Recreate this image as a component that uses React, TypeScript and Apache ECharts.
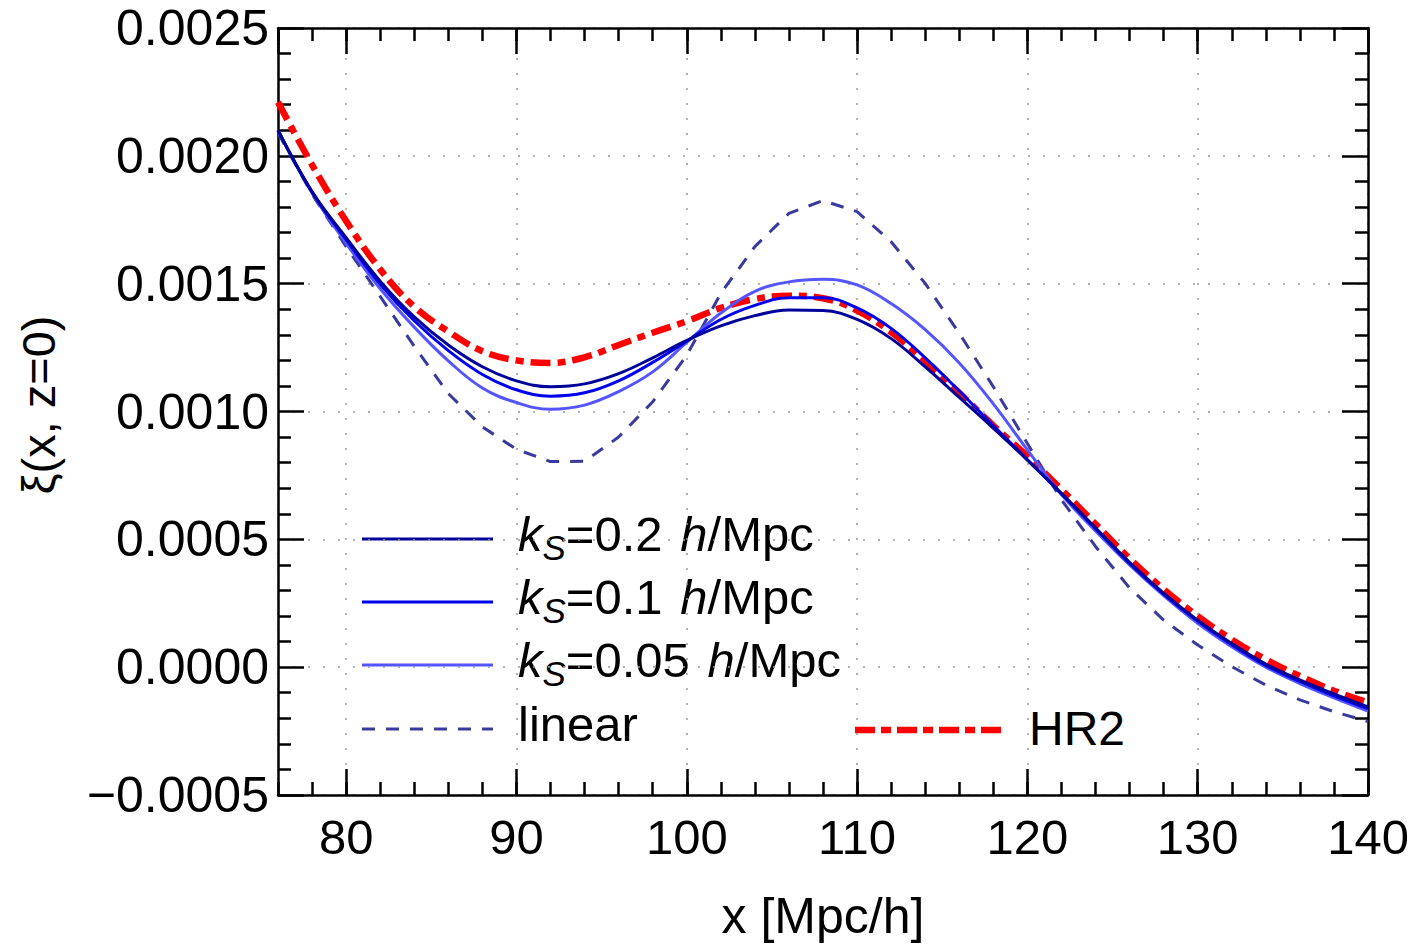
import React, { useEffect, useRef } from "react";
import * as echarts from "echarts";

// x positions [Mpc/h]
const xValues = [
  76, 78, 80, 82, 84, 86, 88, 90, 92, 94, 96, 98, 100, 102, 104, 106, 108,
  110, 112, 114, 116, 118, 120, 122, 124, 126, 128, 130, 132, 134, 136, 138, 140,
];

// xi(x, z=0) values
const ks02 = [
  21.0e-4, 18.6e-4, 16.8e-4, 15.1e-4, 13.7e-4, 12.6e-4, 11.75e-4, 11.2e-4, 10.97e-4,
  11.08e-4, 11.48e-4, 12.1e-4, 12.78e-4, 13.35e-4, 13.75e-4, 13.97e-4, 13.95e-4,
  13.6e-4, 12.85e-4, 11.75e-4, 10.55e-4, 9.35e-4, 8.1e-4, 6.8e-4, 5.45e-4,
  4.1e-4, 2.9e-4, 1.84e-4, 0.93e-4, 0.12e-4, -0.5e-4, -1.05e-4, -1.55e-4,
];
const ks01 = [
  21.0e-4, 18.58e-4, 16.72e-4, 14.98e-4, 13.55e-4, 12.38e-4, 11.45e-4, 10.85e-4, 10.6e-4,
  10.73e-4, 11.2e-4, 11.92e-4, 12.75e-4, 13.6e-4, 14.15e-4, 14.45e-4, 14.45e-4,
  14.05e-4, 13.25e-4, 12.1e-4, 10.8e-4, 9.45e-4, 8.12e-4, 6.78e-4, 5.42e-4,
  4.06e-4, 2.86e-4, 1.8e-4, 0.88e-4, 0.07e-4, -0.56e-4, -1.12e-4, -1.62e-4,
];
const ks005 = [
  21.0e-4, 18.55e-4, 16.58e-4, 14.8e-4, 13.3e-4, 11.98e-4, 10.92e-4, 10.35e-4, 10.09e-4,
  10.25e-4, 10.78e-4, 11.55e-4, 12.7e-4, 13.85e-4, 14.7e-4, 15.07e-4, 15.17e-4,
  14.95e-4, 14.22e-4, 13.2e-4, 11.9e-4, 10.3e-4, 8.5e-4, 6.75e-4, 5.33e-4,
  4.0e-4, 2.8e-4, 1.72e-4, 0.8e-4, 0.0e-4, -0.64e-4, -1.2e-4, -1.72e-4,
];
const linear = [
  20.9e-4, 18.5e-4, 16.45e-4, 14.5e-4, 12.55e-4, 10.7e-4, 9.4e-4, 8.52e-4, 8.04e-4,
  8.05e-4, 9.0e-4, 10.38e-4, 12.2e-4, 14.62e-4, 16.45e-4, 17.75e-4, 18.25e-4,
  17.82e-4, 16.64e-4, 15.01e-4, 13.06e-4, 10.97e-4, 8.75e-4, 6.55e-4, 4.72e-4,
  3.1e-4, 1.84e-4, 0.87e-4, 0.02e-4, -0.7e-4, -1.28e-4, -1.74e-4, -2.13e-4,
];
const hr2 = [
  22.1e-4, 19.65e-4, 17.45e-4, 15.56e-4, 14.1e-4, 13.13e-4, 12.36e-4, 12.0e-4, 11.9e-4,
  12.12e-4, 12.6e-4, 13.08e-4, 13.53e-4, 14.05e-4, 14.4e-4, 14.53e-4, 14.43e-4,
  13.95e-4, 13.1e-4, 11.98e-4, 10.73e-4, 9.45e-4, 8.25e-4, 6.95e-4, 5.6e-4,
  4.25e-4, 3.05e-4, 2.0e-4, 1.08e-4, 0.3e-4, -0.35e-4, -0.92e-4, -1.38e-4,
];

const legendLabels = ["0.2", "0.1", "0.05"];
const xTitle = "x [Mpc/h]";
const yTitle = "ξ(x, z=0)";

const FONT = "'Liberation Sans', Arial, Helvetica, sans-serif";
const C_K02 = "#00009a";
const C_K01 = "#0000ee";
const C_K005 = "#5555ff";
const C_LIN = "#3a3a9c";
const C_HR2 = "#ff0000";

export default function App() {
  const ref = useRef<HTMLDivElement>(null);

  useEffect(() => {
    if (!ref.current) return;
    const chart = echarts.init(ref.current, null, { renderer: "svg" });

    const pairs = (arr: number[]) => xValues.map((x, i) => [x, arr[i]]);
    const black = { color: "#000", width: 2.5 };
    const grid = { color: "#9a9a9a", width: 1.5, type: [2, 13] };

    const xMajor = (pos: string, labels: boolean, split: boolean) => ({
      type: "value",
      min: 76,
      max: 140,
      position: pos,
      axisLine: { show: true, onZero: false, lineStyle: black },
      axisTick: { show: true, inside: true, length: 26, lineStyle: black },
      axisLabel: {
        show: labels,
        showMinLabel: false,
        fontSize: 49,
        lineHeight: 49,
        color: "#000",
        fontFamily: FONT,
        margin: 17,
      },
      splitLine: { show: split, lineStyle: grid },
    });
    const xMinor = (pos: string) => ({
      type: "value",
      min: 76,
      max: 140,
      interval: 2,
      position: pos,
      axisLine: { show: false, onZero: false },
      axisTick: { show: true, inside: true, length: 13, lineStyle: black },
      axisLabel: { show: false },
      splitLine: { show: false },
    });
    const yAxis = (pos: string, labels: boolean, split: boolean) => ({
      type: "value",
      min: -0.0005,
      max: 0.0025,
      interval: 0.0005,
      position: pos,
      axisLine: { show: true, onZero: false, lineStyle: black },
      axisTick: { show: true, inside: true, length: 26, lineStyle: black },
      minorTick: { show: true, splitNumber: 5, length: 13, lineStyle: black },
      axisLabel: {
        show: labels,
        fontSize: 50,
        color: "#000",
        fontFamily: FONT,
        margin: 9,
        formatter: (v: number) => {
          const r = Math.round(v * 1e4) / 1e4;
          return r < 0 ? "\u2212" + Math.abs(r).toFixed(4) : r.toFixed(4);
        },
      },
      splitLine: { show: split, lineStyle: grid },
    });

    const legendRows = [
      { y: 539, color: C_K02, label: legendLabels[0] },
      { y: 602, color: C_K01, label: legendLabels[1] },
      { y: 665, color: C_K005, label: legendLabels[2] },
    ];
    const rich = {
      i: { fontStyle: "italic", fontSize: 49, lineHeight: 62, fontFamily: FONT, fill: "#000" },
      s: { fontStyle: "italic", fontSize: 35, lineHeight: 35, verticalAlign: "bottom", fontFamily: FONT, fill: "#000" },
      n: { fontSize: 49, lineHeight: 62, fontFamily: FONT, fill: "#000" },
    };
    const graphics: any[] = [];
    legendRows.forEach((r) => {
      graphics.push({
        type: "line",
        shape: { x1: 362, y1: r.y, x2: 493, y2: r.y },
        style: { stroke: r.color, lineWidth: 3 },
      });
      graphics.push({
        type: "text",
        x: 518,
        y: r.y - 5,
        style: {
          text: `{i|k}{s|S}{n|=${r.label} \u200A}{i|h}{n|/Mpc}`,
          rich,
          verticalAlign: "middle",
          align: "left",
        },
      });
    });
    graphics.push({
      type: "line",
      shape: { x1: 362, y1: 729, x2: 493, y2: 729 },
      style: { stroke: C_LIN, lineWidth: 3, lineDash: [13, 11] },
    });
    graphics.push({
      type: "text",
      x: 518,
      y: 724,
      style: { text: "linear", fontSize: 49, fontFamily: FONT, fill: "#000", verticalAlign: "middle", align: "left" },
    });
    graphics.push({
      type: "line",
      shape: { x1: 855, y1: 730, x2: 1005, y2: 730 },
      style: { stroke: C_HR2, lineWidth: 6.5, lineDash: [20, 6, 10, 6] },
    });
    graphics.push({
      type: "text",
      x: 1029,
      y: 728,
      style: { text: "HR2", fontSize: 48, fontFamily: FONT, fill: "#000", verticalAlign: "middle", align: "left" },
    });
    graphics.push({
      type: "text",
      x: 823,
      y: 916,
      style: {
        text: xTitle,
        fontSize: 50,
        lineHeight: 50,
        fontFamily: FONT,
        fill: "#000",
        verticalAlign: "middle",
        align: "center",
      },
    });
    graphics.push({
      type: "text",
      x: 38,
      y: 405,
      rotation: Math.PI / 2,
      style: { text: yTitle, fontSize: 47, fontFamily: FONT, fill: "#000", verticalAlign: "middle", align: "center" },
    });

    const line = (name: string, data: number[], color: string, width: number, type: any, smooth: any, z: number) => ({
      name,
      type: "line",
      xAxisIndex: 0,
      yAxisIndex: 0,
      data: pairs(data),
      showSymbol: false,
      symbol: "none",
      smooth,
      clip: true,
      z,
      lineStyle: { color, width, type },
      itemStyle: { color },
    });

    chart.setOption({
      animation: false,
      backgroundColor: "#fff",
      grid: { left: 278, top: 28, width: 1090, height: 767, containLabel: false, outerBoundsMode: "none" },
      xAxis: [xMajor("bottom", true, true), xMinor("bottom"), xMajor("top", false, false), xMinor("top")],
      yAxis: [yAxis("left", true, true), yAxis("right", false, false)],
      series: [
        line("linear", linear, C_LIN, 3, [13, 11], false, 2),
        line("HR2", hr2, C_HR2, 6.5, [20, 7, 8, 7], 0.4, 3),
        line("kS=0.05", ks005, C_K005, 3, "solid", 0.4, 4),
        line("kS=0.1", ks01, C_K01, 3, "solid", 0.4, 5),
        line("kS=0.2", ks02, C_K02, 3, "solid", 0.4, 6),
      ],
      graphic: graphics,
    } as any);

    return () => chart.dispose();
  }, []);

  return (
    <div
      ref={ref}
      style={{ position: "absolute", left: 0, top: 0, width: 1414, height: 945, background: "#fff" }}
    />
  );
}
